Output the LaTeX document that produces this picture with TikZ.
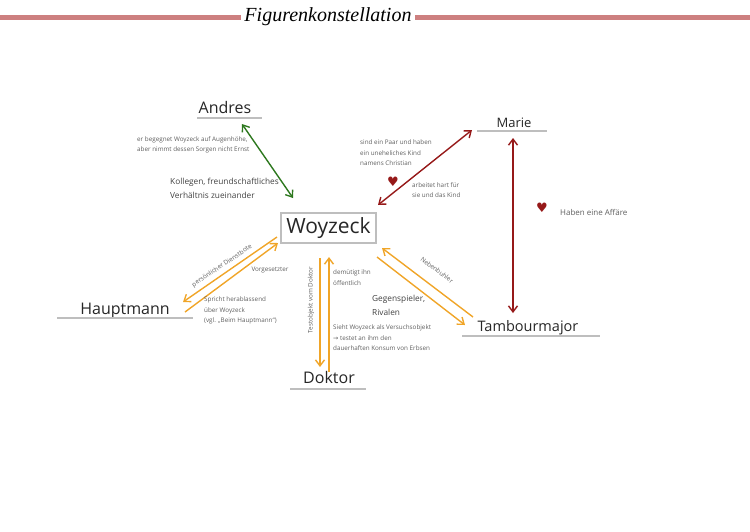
\documentclass[tikz,border=0pt]{standalone}
\usepackage{fontspec}
\setmainfont{Open Sans}
\newfontfamily\titlefont{Liberation Serif}
\newfontfamily\symfont{DejaVu Sans}
\usetikzlibrary{arrows.meta}

\definecolor{titlerose}{RGB}{205,128,128}
\definecolor{linegray}{RGB}{190,190,190}
\definecolor{friendgreen}{RGB}{45,120,30}
\definecolor{lovered}{RGB}{150,25,25}
\definecolor{workorange}{RGB}{240,165,40}
\definecolor{notegray}{RGB}{95,95,95}

\tikzset{
  person/.style={font=\fontsize{16}{16}\selectfont, text=black!85, inner sep=1pt},
  uline/.style={line width=2pt, draw=linegray},
  note/.style={font=\fontsize{6.3}{10.5}\selectfont, text=notegray, align=left, anchor=north west, inner sep=0pt},
  bignote/.style={font=\fontsize{8.3}{14}\selectfont, text=black!75, align=left, anchor=north west, inner sep=0pt},
  rel/.style={line width=1.4pt, >={Straight Barb[length=6pt,width=9pt]}},
  heart/.style={font=\symfont\fontsize{13}{13}\selectfont, text=lovered, inner sep=0pt}
}

\begin{document}
\begin{tikzpicture}[x=1pt,y=-1pt]
    \useasboundingbox (0,0) rectangle (750,531);

    % title
    \node[font=\titlefont\itshape\fontsize{20}{20}\selectfont] (title) at (328,17) {Figurenkonstellation};
    \draw[line width=5pt, titlerose] (0,17) -- (title.west);
    \draw[line width=5pt, titlerose] (title.east) -- (750,17);

    % figures
    \node[draw=linegray, line width=2pt, minimum width=95pt, minimum height=30pt,
          font=\fontsize{21}{21}\selectfont, text=black!85] (woyzeck) at (328.5,228) {Woyzeck};

    \node[person] (andres) at (225,107) {Andres};
    \draw[uline] (197,118) -- (262,118);

    \node[person, font=\fontsize{13}{13}\selectfont] (marie) at (514,123) {Marie};
    \draw[uline] (477,131) -- (547,131);

    \node[person] (hauptmann) at (125,311) {Hauptmann};
    \draw[uline] (57,318) -- (193,318);

    \node[person] (doktor) at (329,377) {Doktor};
    \draw[uline] (290,389) -- (366,389);

    \node[person, font=\fontsize{14.5}{14.5}\selectfont] (tambour) at (528,328) {Tambourmajor};
    \draw[uline] (462,336) -- (600,336);

    % arrow ends
    \coordinate (andresA) at (242,124);
    \coordinate (woyA) at (293,198);
    \coordinate (marieA) at (472,130);
    \coordinate (woyM) at (378,205);
    \coordinate (marieT) at (513,138);
    \coordinate (tambourM) at (513,313);

    \coordinate (woyH1) at (277,237);
    \coordinate (hauptH1) at (183,302);
    \coordinate (hauptH2) at (185,312);
    \coordinate (woyH2) at (278,243);

    \coordinate (woyD1) at (320,258);
    \coordinate (doktorD1) at (320,367);
    \coordinate (doktorD2) at (329,372);
    \coordinate (woyD2) at (329,257);

    \coordinate (tambourT1) at (473,317);
    \coordinate (woyT1) at (382,248);
    \coordinate (woyT2) at (377,257);
    \coordinate (tambourT2) at (465,325);

    \draw[rel, <->, friendgreen] (andresA) -- (woyA);
    \draw[rel, <->, lovered] (marieA) -- (woyM);
    \draw[rel, <->, lovered] (marieT) -- (tambourM);

    \draw[rel, ->, workorange] (woyH1) -- (hauptH1);
    \draw[rel, ->, workorange] (hauptH2) -- (woyH2);
    \draw[rel, ->, workorange] (woyD1) -- (doktorD1);
    \draw[rel, ->, workorange] (doktorD2) -- (woyD2);
    \draw[rel, ->, workorange] (tambourT1) -- (woyT1);
    \draw[rel, ->, workorange] (woyT2) -- (tambourT2);

    % labels
    \node[note] (andresnote) at (137,136) {er begegnet Woyzeck auf Augenhöhe,\\aber nimmt dessen Sorgen nicht Ernst};
    \node[bignote] (kollegen) at (170,178) {Kollegen, freundschaftliches\\Verhältnis zueinander};

    \node[note] (paar) at (360,140) {sind ein Paar und haben\\ein uneheliches Kind\\namens Christian};
    \node[heart] (heartone) at (393,182) {♥};
    \node[note] (arbeitet) at (412,182) {arbeitet hart für\\sie und das Kind};
    \node[heart] (hearttwo) at (542,208) {♥};
    \node[note, anchor=west, font=\fontsize{8}{8}\selectfont] (affaere) at (560,212) {Haben eine Affäre};

    \node[note, anchor=center, rotate=34] (dienst) at (222,266) {persönlicher Dienstbote};
    \node[note, anchor=center] (vorg) at (270,270) {Vorgesetzter};
    \node[note] (spricht) at (204,297) {Spricht herablassend\\über Woyzeck\\(vgl. „Beim Hauptmann“)};

    \node[note, anchor=center, rotate=90] (testobj) at (311,300) {Testobjekt vom Doktor};
    \node[note] (demuet) at (333,270) {demütigt ihn\\öffentlich};
    \node[bignote] (gegen) at (372,295) {Gegenspieler,\\Rivalen};
    \node[note] (sieht) at (333,325) {Sieht Woyzeck als Versuchsobjekt\\{\symfont →} testet an ihm den\\dauerhaften Konsum von Erbsen};

    \node[note, anchor=center, rotate=-37] (neben) at (437,270) {Nebenbuhler};

\end{tikzpicture}
\end{document}
